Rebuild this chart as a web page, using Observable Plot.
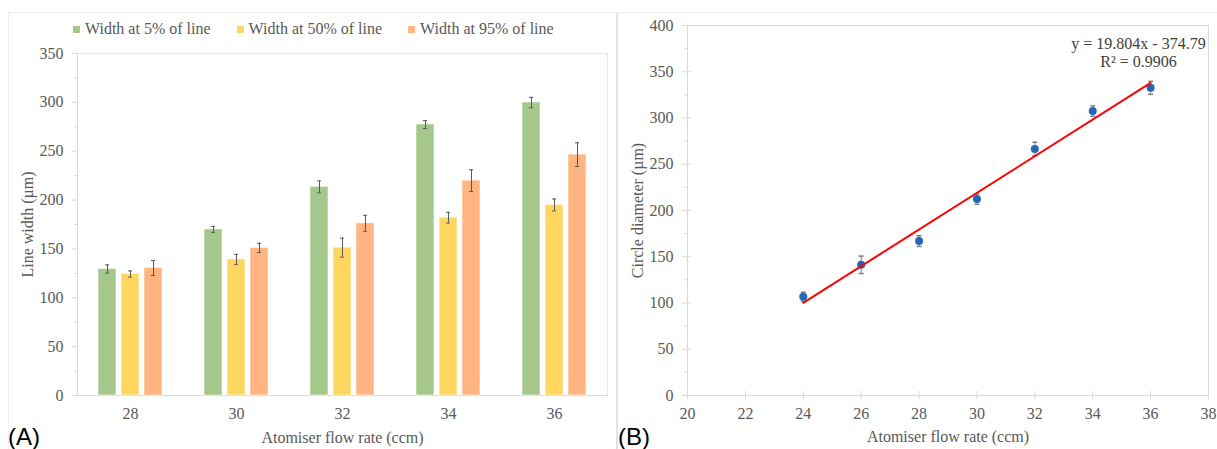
<!DOCTYPE html>
<html>
<head>
<meta charset="utf-8">
<script src="https://cdn.jsdelivr.net/npm/d3@7"></script>
<script src="https://cdn.jsdelivr.net/npm/@observablehq/plot@0.6"></script>
<style>
  body { margin: 0; background: #fff; }
  #root { position: relative; width: 1217px; height: 449px; overflow: hidden; background: #fff;
          font-family: "Liberation Serif", serif; color: #595959; }
  .abs { position: absolute; }
  #legend { left: 0; top: 19px; height: 20px; display: flex; align-items: center; gap: 26px;
            padding-left: 73px; font-size: 16px; line-height: 20px; white-space: nowrap; }
  #legend .item { display: flex; align-items: center; gap: 5px; }
  #legend .sw { width: 7px; height: 7px; display: inline-block; }
  .tag { font-family: "Liberation Sans", sans-serif; font-size: 24px; line-height: 24px; color: #000; }
</style>
</head>
<body>
<div id="root">
  <div class="abs" style="left:8px;top:12px;width:607px;height:450px;border-top:1px solid #f0f0f0;border-left:1px solid #f0f0f0;border-right:2px solid #e3e3e3;"></div>
  <div class="abs" style="left:618px;top:12px;width:600px;height:1px;border-top:1px solid #f0f0f0;"></div>
  <div id="legend" class="abs"></div>
  <div id="chartA" class="abs" style="left:0;top:40px;"></div>
  <div id="chartB" class="abs" style="left:617px;top:0;"></div>
  <div class="abs tag" style="left:8px;top:425px;">(A)</div>
  <div class="abs tag" style="left:618px;top:425px;">(B)</div>
</div>
<script>
// ---------- Panel A data ----------
const flowCats = ["28", "30", "32", "34", "36"];
const seriesNames = ["Width at 5% of line", "Width at 50% of line", "Width at 95% of line"];
const barColors = ["#a5c78c", "#ffd760", "#ffb482"];
const width5 = [129.5, 170.0, 213.5, 277.3, 299.8];
const width5Err = [4.2, 3.0, 6.1, 4.1, 5.3];
const width50 = [124.3, 139.3, 151.3, 182.0, 195.0];
const width50Err = [3.2, 5.1, 9.7, 5.5, 6.1];
const width95 = [130.5, 151.0, 176.2, 219.9, 246.5];
const width95Err = [7.7, 4.8, 8.2, 11.1, 12.1];
const yTicksA = [0, 50, 100, 150, 200, 250, 300, 350];
const yMinorA = [25, 75, 125, 175, 225, 275, 325];
const yLabelA = "Line width (µm)";
const xLabel = "Atomiser flow rate (ccm)";

// ---------- Panel B data ----------
const flowB = [24, 26, 28, 30, 32, 34, 36];
const diameter = [106.7, 141.3, 166.9, 212.3, 266.4, 307.5, 332.6];
const diameterErr = [5.0, 9.4, 5.8, 5.6, 7.4, 5.6, 7.0];
const xTicksB = [20, 22, 24, 26, 28, 30, 32, 34, 36, 38];
const yTicksB = [0, 50, 100, 150, 200, 250, 300, 350, 400];
const yMinorB = [25, 75, 125, 175, 225, 275, 325, 375];
const yLabelB = "Circle diameter (µm)";
const equationLines = ["y = 19.804x - 374.79", "R² = 0.9906"];

const textColor = "#595959";
const axisColor = "#d9d9d9";
const fontStyle = {fontFamily: "Liberation Serif", fontSize: "16px", color: textColor, background: "transparent", overflow: "visible"};

// ---------- Legend ----------
const legend = document.getElementById("legend");
seriesNames.forEach((name, i) => {
  const item = document.createElement("span");
  item.className = "item";
  const sw = document.createElement("span");
  sw.className = "sw";
  sw.style.background = barColors[i];
  const t = document.createElement("span");
  t.textContent = name;
  item.appendChild(sw); item.appendChild(t);
  legend.appendChild(item);
});

// ---------- Panel A ----------
const rowsA = [];
const seriesVals = [width5, width50, width95];
const seriesErrs = [width5Err, width50Err, width95Err];
flowCats.forEach((c, i) => {
  seriesNames.forEach((s, j) => {
    rowsA.push({cat: c, series: s, value: seriesVals[j][i], err: seriesErrs[j][i]});
  });
});

const chartA = Plot.plot({
  width: 617, height: 409,
  marginTop: 13, marginBottom: 54, marginLeft: 77, marginRight: 10,
  style: fontStyle,
  fx: {domain: flowCats, paddingInner: 0, paddingOuter: 0, axis: null, label: null},
  x: {domain: seriesNames, paddingInner: 0.2, paddingOuter: 0.845, axis: null, label: null},
  y: {domain: [0, 350], axis: null, label: null},
  color: {domain: seriesNames, range: barColors},
  marks: [
    Plot.frame({facet: "super", stroke: "#e4ebde"}),
    Plot.frame({facet: "super", anchor: "left", stroke: axisColor}),
    Plot.frame({facet: "super", anchor: "bottom", stroke: axisColor}),
    Plot.barY(rowsA, {fx: "cat", x: "series", y: "value", fill: "series", stroke: "#ffffff", strokeOpacity: 0.55, strokeWidth: 1}),
    Plot.ruleX(rowsA, {fx: "cat", x: "series", y1: d => d.value - d.err, y2: d => d.value + d.err, stroke: "#595959", strokeWidth: 1}),
    Plot.tickY(rowsA, {fx: "cat", x: "series", y: d => d.value - d.err, insetLeft: 7, insetRight: 7, stroke: "#595959"}),
    Plot.tickY(rowsA, {fx: "cat", x: "series", y: d => d.value + d.err, insetLeft: 7, insetRight: 7, stroke: "#595959"}),
    Plot.axisY({ticks: yTicksA, tickSize: 5, tickPadding: 9, stroke: axisColor, fill: textColor, fontSize: 16,
                label: yLabelA, labelAnchor: "center", labelOffset: 56, labelArrow: "none"}),
    Plot.axisY({ticks: yMinorA, tickSize: 3, text: null, stroke: axisColor, label: null}),
    Plot.axisFx({anchor: "bottom", tickSize: 0, tickPadding: 12, fill: textColor, fontSize: 16,
                 label: xLabel, labelAnchor: "center", labelOffset: 47, labelArrow: "none"})
  ]
});
document.getElementById("chartA").appendChild(chartA);

// ---------- Panel B ----------
const pts = flowB.map((f, i) => ({flow: f, diam: diameter[i], err: diameterErr[i]}));
const capSymbol = {draw(ctx, size) { ctx.moveTo(-2.5, 0); ctx.lineTo(2.5, 0); }};

const chartB = Plot.plot({
  width: 600, height: 449,
  marginTop: 25, marginBottom: 54, marginLeft: 70, marginRight: 9,
  style: fontStyle,
  x: {domain: [20, 38], axis: null, label: null},
  y: {domain: [0, 400], axis: null, label: null},
  marks: [
    Plot.frame({stroke: axisColor}),
    Plot.ruleX(pts, {x: "flow", y1: d => d.diam - d.err, y2: d => d.diam + d.err, stroke: "#7f7f7f"}),
    Plot.dot(pts, {x: "flow", y: d => d.diam - d.err, symbol: capSymbol, fill: "none", stroke: "#7f7f7f", r: 3}),
    Plot.dot(pts, {x: "flow", y: d => d.diam + d.err, symbol: capSymbol, fill: "none", stroke: "#7f7f7f", r: 3}),
    Plot.dot(pts, {x: "flow", y: "diam", r: 4, fill: "#2466b8", stroke: "none"}),
    Plot.linearRegressionY(pts, {x: "flow", y: "diam", stroke: "#ff0000", strokeWidth: 2, ci: 0}),
    Plot.text([equationLines.join("\n")], {text: d => d, frameAnchor: "top-right", dx: -70, dy: 10,
               textAnchor: "middle", lineAnchor: "top", lineHeight: 1.15, fontSize: 16, fill: "#404040"}),
    Plot.axisX({ticks: xTicksB, tickSize: 4, tickPadding: 8, stroke: axisColor, fill: textColor, fontSize: 16,
                label: xLabel, labelAnchor: "center", labelOffset: 46, labelArrow: "none"}),
    Plot.axisX({ticks: xTicksB, tickSize: -4, text: null, stroke: axisColor, label: null}),
    Plot.axisY({ticks: yTicksB, tickSize: 5, tickPadding: 9, stroke: axisColor, fill: textColor, fontSize: 16,
                label: yLabelB, labelAnchor: "center", labelOffset: 56, labelArrow: "none"}),
    Plot.axisY({ticks: yTicksB, tickSize: -4, text: null, stroke: axisColor, label: null}),
    Plot.axisY({ticks: yMinorB, tickSize: 3, text: null, stroke: axisColor, label: null})
  ]
});
document.getElementById("chartB").appendChild(chartB);
</script>
</body>
</html>
